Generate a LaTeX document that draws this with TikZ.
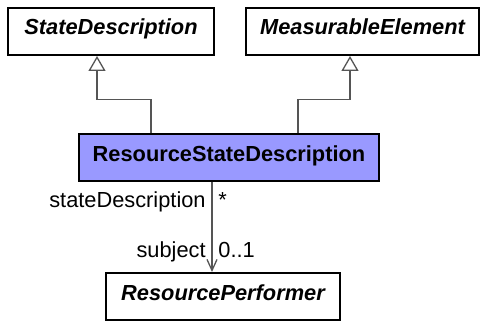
\documentclass[tikz,border=0pt]{standalone}
\usepackage{fontspec}
\setmainfont{Liberation Sans}
\usetikzlibrary{arrows.meta, positioning}

\definecolor{umlline}{HTML}{555555}
\definecolor{umlfill}{HTML}{9999FF}

\begin{document}
\begin{tikzpicture}[
    x=0.5pt, y=0.5pt,
    font=\fontsize{10.9}{13}\selectfont,
    cls/.style={rectangle, draw=black, line width=1pt, fill=white, inner sep=0pt,
      text height=13.5pt, text depth=10pt, font=\fontsize{10.9}{13}\selectfont\bfseries},
    abstractcls/.style={cls, font=\fontsize{10.9}{13}\selectfont\bfseries\itshape},
    focuscls/.style={cls, fill=umlfill},
    gen/.style={draw=umlline, line width=0.65pt,
      -{Triangle[open, length=7.5pt, width=8.5pt, fill=white]}},
    assoc/.style={draw=umlline, line width=0.65pt,
      -{Straight Barb[length=5.5pt, width=5pt]}},
    role/.style={inner sep=0pt},
  ]
  \useasboundingbox (0,0) rectangle (481,321);

  \node[abstractcls, minimum width=103pt]   (statedesc)  at (111,289.5)   {StateDescription};
  \node[abstractcls, minimum width=116.5pt] (measurable) at (362.5,289.5) {MeasurableElement};
  \node[focuscls, minimum width=150pt]      (rsd)        at (229,163)     {ResourceStateDescription};
  \node[abstractcls, minimum width=117pt]   (performer)  at (223,24.5)    {ResourcePerformer};

  % generalizations
  \draw[gen] ([xshift=-39pt]rsd.north) -- ++(0,34) -| ([xshift=-7pt]statedesc.south);
  \draw[gen] ([xshift=34.5pt]rsd.north) -- ++(0,34) -| ([xshift=-6.25pt]measurable.south);

  % association
  \draw[assoc] ([xshift=-8.5pt]rsd.south) -- ([xshift=-8.5pt]rsd.south |- performer.north);

  \node[role, anchor=base east] (srcrole) at (206,113) {stateDescription};
  \node[role, anchor=base west] (srcmult) at (218,113) {*};
  \node[role, anchor=base east] (tgtrole) at (206,63)  {subject};
  \node[role, anchor=base west] (tgtmult) at (218,63)  {0..1};
\end{tikzpicture}
\end{document}
